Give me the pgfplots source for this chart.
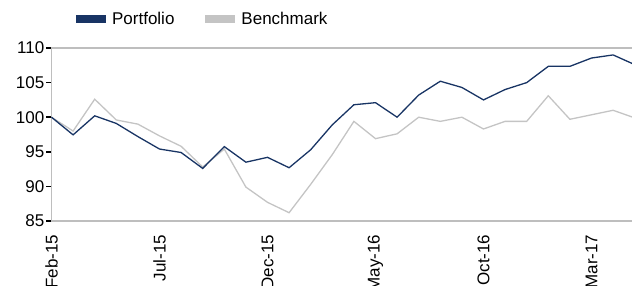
\documentclass[border=0pt]{standalone}
\usepackage{fontspec}
\setmainfont{Liberation Sans}
\usepackage{pgfplots}
\pgfplotsset{compat=1.18}
\definecolor{navy}{RGB}{24,52,100}
\definecolor{bench}{RGB}{196,196,196}
\definecolor{axgray}{RGB}{190,190,190}
\begin{document}
\begin{tikzpicture}
\path[use as bounding box] (0pt,0pt) rectangle (632pt,285pt);
\begin{axis}[
  at={(51.5pt,64pt)}, anchor=south west,
  scale only axis,
  width=583.2pt, height=173pt,
  xmin=0, xmax=27, ymin=85, ymax=110,
  axis line style={axgray, line width=1.6pt},
  ytick={85,90,...,110},
  xtick={0,5,10,15,20,25},
  xticklabels={Feb-15,Jul-15,Dec-15,May-16,Oct-16,Mar-17},
  minor xtick={0,2,...,26},
  xtick pos=bottom, ytick pos=left,
  tick align=outside,
  major tick length=5pt,
  minor tick length=2pt,
  ytick style={black, line width=1.5pt},
  xtick style={draw=none},
  every minor tick/.style={black, line width=1.6pt},
  /pgf/number format/assume math mode=true,
  tick label style={font=\fontsize{17}{20}\selectfont},
  yticklabel style={inner sep=2pt},
  xticklabel style={rotate=90, anchor=east, inner sep=0pt},
  xticklabel shift=8.5pt,
  legend columns=2,
  reverse legend,
  legend style={at={(rel axis cs:0.035,1.168)}, anchor=west, draw=none, fill=none,
    font=\fontsize{17}{20}\selectfont, inner sep=0pt,
    /tikz/every even column/.append style={column sep=25pt},
    nodes={inner sep=2pt}},
  legend image code/.code={\draw[#1, line width=8pt, line cap=butt] (0pt,0pt) -- (30pt,0pt);},
  clip=false,
]
\addplot[bench, line width=1.3pt] coordinates {
(0,100) (1,98.0) (2,102.6) (3,99.6) (4,99.0) (5,97.3) (6,95.8) (7,92.8) (8,95.4) (9,89.9)
(10,87.7) (11,86.2) (12,90.3) (13,94.6) (14,99.4) (15,96.9) (16,97.6) (17,100.0) (18,99.4) (19,100.0)
(20,98.3) (21,99.4) (22,99.4) (23,103.1) (24,99.7) (25,100.35) (26,101.0) (27,99.9)};
\addlegendentry{Benchmark}
\addplot[navy, line width=1.3pt] coordinates {
(0,100) (1,97.45) (2,100.2) (3,99.1) (4,97.2) (5,95.4) (6,94.9) (7,92.6) (8,95.75) (9,93.5)
(10,94.2) (11,92.7) (12,95.3) (13,98.9) (14,101.8) (15,102.1) (16,100.0) (17,103.2) (18,105.2) (19,104.3)
(20,102.5) (21,104.0) (22,105.0) (23,107.35) (24,107.35) (25,108.55) (26,109.0) (27,107.6)};
\addlegendentry{Portfolio}
\end{axis}
\end{tikzpicture}
\end{document}
